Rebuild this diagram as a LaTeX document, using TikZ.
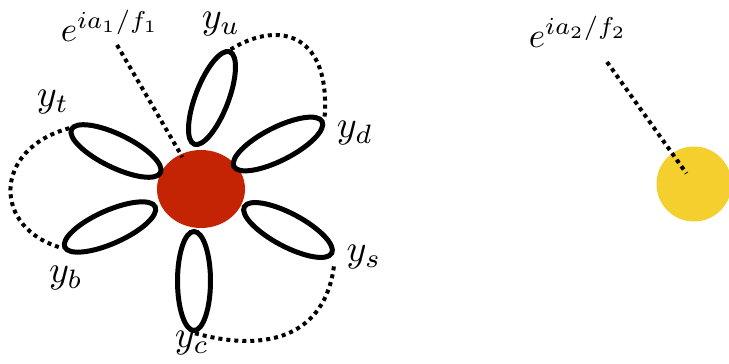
\documentclass[tikz,border=0pt]{standalone}
\usetikzlibrary{shapes.geometric}
\definecolor{axred}{RGB}{196,36,4}
\definecolor{axyellow}{RGB}{243,208,45}
\begin{document}
\begin{tikzpicture}[x=1pt,y=1pt,
    petal/.style={draw,line width=5pt,ellipse,minimum width=99pt,minimum height=33pt,inner sep=0pt},
    core/.style={ellipse,inner sep=0pt},
    dots/.style={line width=4pt,dash pattern=on 4pt off 4pt},
    lab/.style={scale=3.8,inner sep=0pt}]
  \useasboundingbox (0,0) rectangle (729,364);
  % first axion: red core with the six quark petals
  \node[core,fill=axred,minimum width=88pt,minimum height=78pt] (red) at (201,175) {};
  \node[petal,rotate=69]  (pu) at (212,266) {};
  \node[petal,rotate=27]  (pd) at (278,220) {};
  \node[petal,rotate=-28] (ps) at (288,134) {};
  \node[petal,rotate=90]  (pc) at (194,83) {};
  \node[petal,rotate=-26] (pt) at (116,213) {};
  \node[petal,rotate=24]  (pb) at (110,137) {};
  \node[lab] (yu) at (221,340) {$y_u$};
  \node[lab] (yd) at (355,231) {$y_d$};
  \node[lab] (ys) at (364,107) {$y_s$};
  \node[lab] (yc) at (192,21) {$y_c$};
  \node[lab] (yb) at (66,86) {$y_b$};
  \node[lab] (yt) at (53,262) {$y_t$};
  \node[lab,scale=0.92] (e1) at (110,338) {$e^{ia_1/f_1}$};
  \coordinate (t1) at (117,319);
  \draw[dots,shorten >=37pt] (t1) -- (red.center);
  % pairs of petals
  \draw[dots] (pu.east) .. controls (280,345) and (332,330) .. (pd.east);
  \draw[dots] (pt.west) .. controls (-8,215) and (-8,135) .. (pb.west);
  \draw[dots] ([yshift=-12pt]ps.east) .. controls (325,30) and (270,10) .. (pc.west);
  % second axion
  \node[circle,fill=axyellow,minimum size=75pt,inner sep=0pt] (yel) at (694,180) {};
  \node[lab,scale=0.92] (e2) at (578,332) {$e^{ia_2/f_2}$};
  \coordinate (t2) at (607,302);
  \draw[dots,shorten >=13pt] (t2) -- (yel.center);
\end{tikzpicture}
\end{document}
